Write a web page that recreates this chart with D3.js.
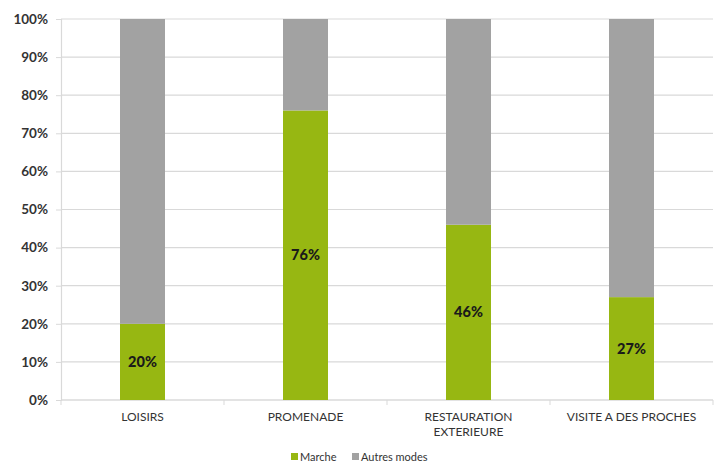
<!DOCTYPE html>
<html>
<head>
<meta charset="utf-8">
<script src="https://cdn.jsdelivr.net/npm/d3@7"></script>
<style>
  body { margin: 0; background: #fff; }
  text { font-family: Lato, "Open Sans", sans-serif; }
</style>
</head>
<body>
<div id="chart"></div>
<script>
var categories = [["LOISIRS"], ["PROMENADE"], ["RESTAURATION", "EXTERIEURE"], ["VISITE A DES PROCHES"]];
var marche = [20, 76, 46, 27];
var autres = [80, 24, 54, 73];
var yTicks = [0, 10, 20, 30, 40, 50, 60, 70, 80, 90, 100];
var seriesNames = ["Marche", "Autres modes"];

var width = 722, height = 463;
var margin = { top: 19, right: 9, bottom: 63, left: 61 };
var innerW = width - margin.left - margin.right;
var innerH = height - margin.top - margin.bottom;

var green = "#97b712", grey = "#a2a2a2";

var svg = d3.select("#chart").append("svg")
  .attr("width", width)
  .attr("height", height);

var g = svg.append("g")
  .attr("transform", `translate(${margin.left}, ${margin.top})`);

var x = d3.scaleBand()
  .domain(d3.range(categories.length))
  .range([0, innerW])
  .paddingInner(0.724)
  .paddingOuter(0.362);

var y = d3.scaleLinear().domain([0, 100]).range([innerH, 0]);

// gridlines
g.selectAll(".grid")
  .data(yTicks)
  .join("line")
  .attr("class", "grid")
  .attr("x1", 0).attr("x2", innerW)
  .attr("y1", d => y(d)).attr("y2", d => y(d))
  .attr("stroke", "#d9d9d9")
  .attr("stroke-width", 1.2);

// y axis
var yAxis = d3.axisLeft(y).tickValues(yTicks).tickFormat(d => d + "%").tickSize(5).tickPadding(8);
var ya = g.append("g").call(yAxis);
ya.select(".domain").attr("stroke", "#d9d9d9").attr("stroke-width", 1.2);
ya.selectAll(".tick line").attr("stroke", "#d9d9d9");
ya.selectAll(".tick text").attr("fill", "#333").attr("font-size", 13.5).attr("font-weight", "bold");

// x axis line with ticks between categories
g.append("line")
  .attr("x1", 0).attr("x2", innerW)
  .attr("y1", innerH).attr("y2", innerH)
  .attr("stroke", "#d9d9d9").attr("stroke-width", 1.2);
g.selectAll(".xtick")
  .data(d3.range(categories.length + 1))
  .join("line")
  .attr("x1", d => d * innerW / categories.length)
  .attr("x2", d => d * innerW / categories.length)
  .attr("y1", innerH).attr("y2", innerH + 5)
  .attr("stroke", "#d9d9d9");

// stacked bars
g.selectAll(".bar-m")
  .data(marche)
  .join("rect")
  .attr("x", (d, i) => x(i))
  .attr("width", x.bandwidth())
  .attr("y", d => y(d))
  .attr("height", d => innerH - y(d))
  .attr("fill", green);

g.selectAll(".bar-a")
  .data(autres)
  .join("rect")
  .attr("x", (d, i) => x(i))
  .attr("width", x.bandwidth())
  .attr("y", (d, i) => y(marche[i] + d))
  .attr("height", (d, i) => y(marche[i]) - y(marche[i] + d))
  .attr("fill", grey);

// value labels
g.selectAll(".val")
  .data(marche)
  .join("text")
  .attr("x", (d, i) => x(i) + x.bandwidth() / 2)
  .attr("y", d => y(d / 2))
  .attr("dy", "0.35em")
  .attr("text-anchor", "middle")
  .attr("font-size", 14.5)
  .attr("font-weight", "900")
  .attr("fill", "#1a1a1a")
  .text(d => d + "%");

// category labels
var cat = g.selectAll(".cat")
  .data(categories)
  .join("text")
  .attr("x", (d, i) => x(i) + x.bandwidth() / 2)
  .attr("y", innerH + 21)
  .attr("text-anchor", "middle")
  .attr("font-size", 12)
  .attr("fill", "#333");
cat.selectAll("tspan")
  .data(d => d)
  .join("tspan")
  .attr("x", function () { return this.parentNode.getAttribute("x"); })
  .attr("dy", (d, i) => i === 0 ? 0 : 15)
  .text(d => d);

// legend
var legend = svg.append("g").attr("transform", "translate(291, 457)");
var legX = [0, 61];
legend.selectAll("rect")
  .data(seriesNames)
  .join("rect")
  .attr("x", (d, i) => legX[i])
  .attr("y", -4)
  .attr("width", 7).attr("height", 7)
  .attr("fill", (d, i) => i === 0 ? green : grey);
legend.selectAll("text")
  .data(seriesNames)
  .join("text")
  .attr("x", (d, i) => legX[i] + 9)
  .attr("y", 0)
  .attr("dy", "0.35em")
  .attr("font-size", 11)
  .attr("fill", "#333")
  .text(d => d);
</script>
</body>
</html>
